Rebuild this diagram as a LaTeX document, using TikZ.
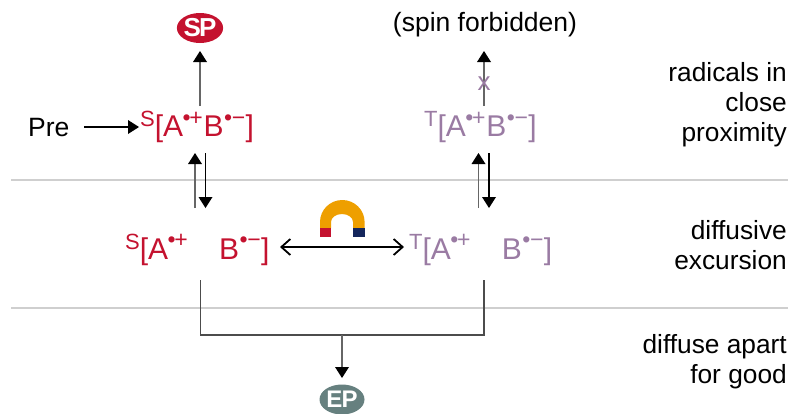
\documentclass[tikz,border=0pt]{standalone}
\usepackage{fontspec}
\setmainfont{Liberation Sans}
\usetikzlibrary{arrows.meta,shapes.geometric}
\definecolor{sred}{HTML}{C4122F}
\definecolor{tpur}{HTML}{9A7BA3}
\definecolor{epgr}{HTML}{66807F}
\definecolor{magor}{HTML}{EE9F00}
\definecolor{magnv}{HTML}{14265C}
\definecolor{rule}{HTML}{CFCFCF}
\newcommand{\fs}[1]{\fontsize{#1}{#1}\selectfont}
\newcommand{\spinA}{A\raisebox{11.5pt}{\fs{23}\kern-0.5pt\char"2022\kern-1.5pt+}}
\newcommand{\spinB}{B\raisebox{11.5pt}{\fs{23}\kern0.5pt\char"2022\kern-0.5pt\char"2212}}
\newcommand{\spinS}[1]{\raisebox{10pt}{\fs{22}#1}}
\tikzset{
  x=1pt,y=-1pt,
  lab/.style={font=\fs{26.3},text=black,inner sep=0pt,align=right},
  txt/.style={font=\fs{26.5},text=black,inner sep=0pt},
  spec/.style={font=\fs{30},inner sep=0pt,anchor=base west},
  arr/.style={line width=1.4pt,draw=black!60,-{Triangle[length=11pt,width=14pt,fill=black,color=black,line width=0pt]}},
  arrthin/.style={line width=1.2pt,draw=black,-{Triangle[length=11pt,width=14pt,fill=black,line width=0pt]}},
  dblarr/.style={line width=1.7pt,draw=black,{Straight Barb[length=9pt,width=16pt,line width=1.8pt]}-{Straight Barb[length=9pt,width=16pt,line width=1.8pt]}},
  sep/.style={line width=1.3pt,draw=rule},
  prod/.style={ellipse,inner sep=0pt,minimum width=45pt,minimum height=30pt,font=\bfseries\fs{26},text=white},
  conn/.style={line width=1.3pt,draw=black!70}
}
\begin{document}
\begin{tikzpicture}
\useasboundingbox (0,0) rectangle (791,413);
% separators
\coordinate (sa1) at (11,180); \coordinate (sa2) at (788,180);
\coordinate (sb1) at (11,308); \coordinate (sb2) at (788,308);
\draw[sep] (sa1) -- (sa2);
\draw[sep] (sb1) -- (sb2);
% products
\node[prod,fill=sred] (sp) at (200,28) {S\kern-2pt P};
\node[prod,fill=epgr,font=\bfseries\fs{24}] (ep) at (342,399.5) {E\kern-1pt P};
\node[txt] (forb) at (485,25) {(spin forbidden)};
\node[txt,anchor=base west] (pre) at (28,136) {Pre};
% species
\node[spec,text=sred] (s1) at (140,136.5) {\spinS{S}[\spinA\kern1pt\spinB\kern0.5pt]};
\node[spec,text=tpur] (t1) at (424,136.5) {\spinS{T}[\spinA\kern1pt\spinB\kern0.5pt]};
\node[spec,text=sred] (s2) at (125,259) {\spinS{S}[\spinA\kern31.5pt\spinB\kern0.5pt]};
\node[spec,text=tpur] (t2) at (409,259) {\spinS{T}[\spinA\kern31.5pt\spinB\kern0.5pt]};
% labels
\node[lab,anchor=north east] (l1) at (787,62) {radicals in\\[4pt]close\\[4pt]proximity};
\node[lab,anchor=north east] (l2) at (787,220) {diffusive\\[4pt]excursion};
\node[lab,anchor=north east] (l3) at (787,334) {diffuse apart\\[4pt]for good};
% free ends
\coordinate (preE) at (84,127); \coordinate (preT) at (139,127);
\coordinate (a1) at (200,106); \coordinate (a2) at (200,51);
\coordinate (b1) at (484,106); \coordinate (b2) at (484,51);
\coordinate (c1) at (195,208); \coordinate (c2) at (195,153);
\coordinate (d1) at (205.5,153); \coordinate (d2) at (205.5,208);
\coordinate (e1) at (478.5,208); \coordinate (e2) at (478.5,153);
\coordinate (f1) at (489,153); \coordinate (f2) at (489,208);
\coordinate (g1) at (280,247); \coordinate (g2) at (404,247);
\coordinate (h1) at (200.5,280); \coordinate (h2) at (200.5,335);
\coordinate (h3) at (484,335); \coordinate (h4) at (484,280);
\coordinate (h5) at (342,335); \coordinate (h6) at (342,378);
% connectors
\draw[arrthin] (preE) -- (preT);
\draw[arr] (a1) -- (a2);
\draw[arr] (b1) -- (b2);
\draw[arr] (c1) -- (c2);
\draw[arrthin] (d1) -- (d2);
\draw[arr] (e1) -- (e2);
\draw[arrthin] (f1) -- (f2);
\draw[dblarr] (g1) -- (g2);
\draw[conn] (h1) -- (h2) -- (h3) -- (h4);
\draw[arr] (h5) -- (h6);
% cross on forbidden arrow
\node[inner sep=0pt,font=\fs{26},text=tpur] (cross) at (484,84) {x};
% magnet
\fill[magor] (320,228) -- (320,222) arc[start angle=180,end angle=360,x radius=22.3,y radius=22] -- (364.6,228) -- (353,228) -- (353,222) arc[start angle=360,end angle=180,x radius=11,y radius=8] -- (331,228) -- cycle;
\fill[sred] (320,228) rectangle (331,237);
\fill[magnv] (353,228) rectangle (364.6,237);
\end{tikzpicture}
\end{document}
